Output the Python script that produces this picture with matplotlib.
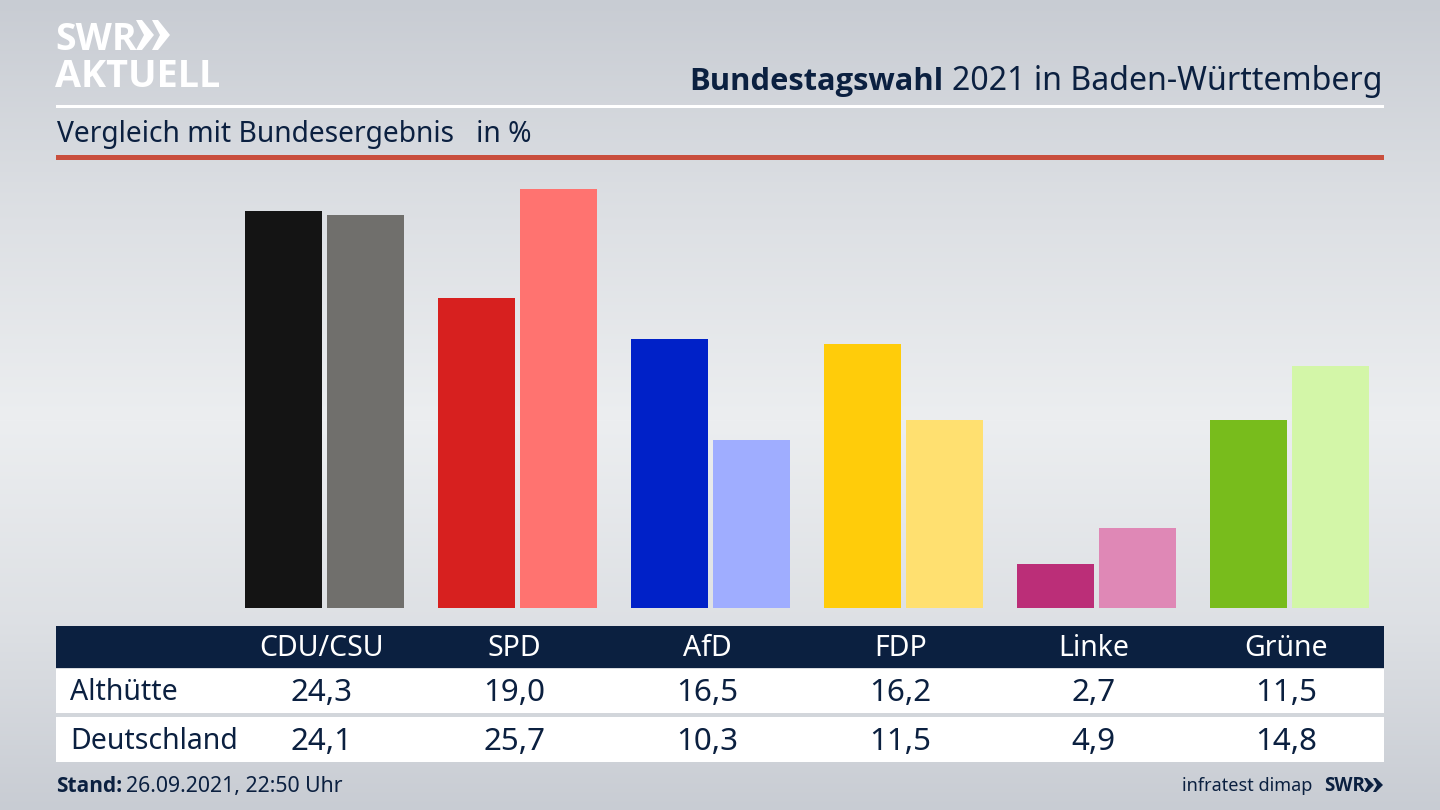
import numpy as np
import matplotlib
matplotlib.use("Agg")
import matplotlib.pyplot as plt
from matplotlib.patches import Rectangle, Polygon

parties = ["CDU/CSU", "SPD", "AfD", "FDP", "Linke", "Grüne"]
althuette = [24.3, 19.0, 16.5, 16.2, 2.7, 11.5]
deutschland = [24.1, 25.7, 10.3, 11.5, 4.9, 14.8]
colors_local = ["#141414", "#d7201f", "#0021c8", "#ffcc0a", "#bb2e78", "#78bc1c"]
colors_country = ["#706f6c", "#ff7370", "#9fadff", "#ffe070", "#df88b6", "#d3f6a8"]
row_names = ["Althütte", "Deutschland"]

NAVY = "#0b2040"
BOLD = "Open Sans"  # Noto Sans only comes in one weight here
plt.rcParams["font.family"] = ["Noto Sans", "DejaVu Sans"]

fig = plt.figure(figsize=(14.4, 8.1), dpi=100)

# page furniture is laid out in pixels
bg = fig.add_axes([0, 0, 1, 1])
bg.set_xlim(0, 1440)
bg.set_ylim(810, 0)
bg.axis("off")

shade = np.interp(np.arange(810), [0, 200, 420, 620, 810], [0.0, 0.55, 1.0, 0.6, 0.0])
top = np.array([200, 204, 211]) / 255
mid = np.array([236, 238, 240]) / 255
grad = top + (mid - top) * shade[:, None]
bg.imshow(grad[:, None, :], extent=(0, 1440, 810, 0), aspect="auto", zorder=0)

# logo
bg.text(55, 50, "SWR", color="white", fontsize=27, fontweight="bold", ha="left", va="baseline", family=BOLD)
for x0 in (136, 152):
    bg.add_patch(Polygon([(x0, 20), (x0 + 6, 20), (x0 + 18, 35), (x0 + 6, 50), (x0, 50), (x0 + 8, 35)],
                         closed=True, fc="white", ec="none"))
bg.text(55, 87, "AKTUELL", color="white", fontsize=27.2, fontweight="bold", ha="left", va="baseline", family=BOLD)

# heading
t2 = bg.text(1383, 90, "2021 in Baden-Württemberg", color=NAVY, fontsize=23.1, ha="right", va="baseline")
fig.canvas.draw()
title_x = bg.transData.inverted().transform((t2.get_window_extent().x0, 0))[0]
bg.text(title_x - 9, 90, "Bundestagswahl", color=NAVY, fontsize=22.2, fontweight="bold", ha="right",
        va="baseline", family=BOLD)
bg.add_patch(Rectangle((56, 105), 1328, 2.5, fc="white", ec="none"))
bg.text(57, 142, "Vergleich mit Bundesergebnis   in %", color=NAVY, fontsize=20.3, va="baseline")
bg.add_patch(Rectangle((56, 155), 1328, 5, fc="#c94f3d", ec="none"))

# bars, pixel scale of the source: 193 px per party, 16.32 px per percent
step = 193.0
x_first = 324.5
ax = fig.add_axes([56 / 1440, (810 - 608) / 810, 1328 / 1440, 448 / 810])
ax.patch.set_alpha(0)
ax.set_xlim((56 - x_first) / step, (1384 - x_first) / step)
ax.set_ylim(0, 448 / 16.32)
ax.axis("off")
pos = np.arange(len(parties))
ax.bar(pos - 41 / step, althuette, width=77 / step, color=colors_local)
ax.bar(pos + 41 / step, deutschland, width=77 / step, color=colors_country)

# table
bg.add_patch(Rectangle((56, 626), 1328, 42, fc=NAVY, ec="none"))
bg.add_patch(Rectangle((56, 669), 1328, 44, fc="white", ec="none"))
bg.add_patch(Rectangle((56, 717), 1328, 45, fc="white", ec="none"))
row_y = [700, 749]
for i, name in enumerate(parties):
    cx = x_first - 3 + step * i
    bg.text(cx, 656, name, color="white", fontsize=20.5, ha="center", va="baseline")
    for vals, y in zip((althuette, deutschland), row_y):
        bg.text(cx, y + 1, f"{vals[i]:.1f}".replace(".", ","), color=NAVY, fontsize=22.5,
                ha="center", va="baseline")
for name, y in zip(row_names, row_y):
    bg.text(70, y, name, color=NAVY, fontsize=20.5, va="baseline")

# footer
bg.text(56, 792, "Stand:", color=NAVY, fontsize=15, fontweight="bold", va="baseline", family=BOLD)
bg.text(126, 792, "26.09.2021, 22:50 Uhr", color=NAVY, fontsize=15.3, va="baseline")
bg.text(1312, 791, "infratest dimap", color=NAVY, fontsize=13, ha="right", va="baseline")
bg.text(1324, 791, "SWR", color=NAVY, fontsize=13.5, fontweight="bold", ha="left", va="baseline", family=BOLD)
for x0 in (1364, 1373):
    bg.add_patch(Polygon([(x0, 778), (x0 + 3, 778), (x0 + 10, 785), (x0 + 3, 792), (x0, 792), (x0 + 4, 785)],
                         closed=True, fc=NAVY, ec="none"))

fig.savefig("out.png", dpi=100)
